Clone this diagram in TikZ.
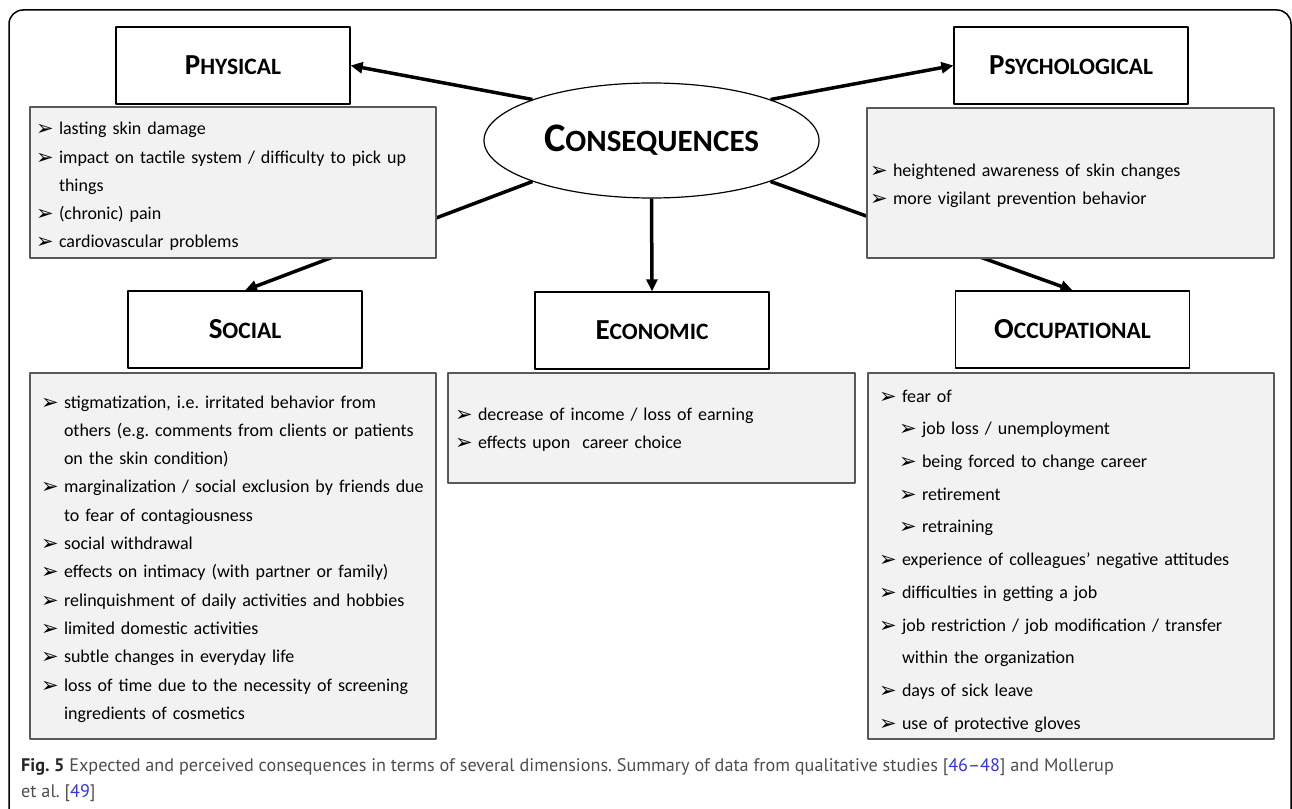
\documentclass[tikz,border=0pt]{standalone}
\usepackage{fontspec}
\setmainfont{Carlito}
\newfontfamily\symfont{DejaVu Sans}
\newfontfamily\capfont{PT Sans}
\usetikzlibrary{shapes.geometric,arrows.meta}
\frenchspacing

\definecolor{boxgray}{HTML}{F2F2F2}
\definecolor{edgegray}{HTML}{595959}
\definecolor{capgray}{HTML}{4D4D4D}
\definecolor{citeblue}{HTML}{3434F0}

\newcommand\bul{\hbox to 23pt{\raisebox{-1pt}{\symfont\fontsize{21}{21}\selectfont ➢}\hfil}}
\newcommand\itm[1]{\par\noindent\bul\mbox{#1}}
\newcommand\subitm[1]{\par\noindent\hspace*{20pt}\bul\mbox{#1}}
\newcommand\nxt[1]{\par\noindent\hspace*{23pt}\mbox{#1}}
\newcommand\pad[1]{\hrule height 0pt width 0pt\vspace*{#1}}
\newcommand\ttl[2]{{\fontsize{29}{29}\selectfont#1}{\fontsize{23.5}{23.5}\selectfont#2}}

\begin{document}
\begin{tikzpicture}[x=1pt, y=-1pt, line join=round,
    title/.style={draw, line width=1.3pt, fill=white, minimum width=234pt, minimum height=77pt, font=\bfseries},
    listbox/.style={draw=edgegray, line width=1.3pt, fill=boxgray, align=left, inner ysep=0pt, font=\fontsize{18}{28.3}\selectfont},
    conn/.style={line width=3.5pt, -{Triangle[length=12pt,width=11pt]}}]

    \useasboundingbox (0,0) rectangle (1292,808);
    \draw[line width=1.5pt, rounded corners=14pt] (9,840) -- (9,10) -- (1291,10) -- (1291,840);

    \node[draw, ellipse, line width=1.2pt, fill=white, minimum width=335pt, minimum height=115pt, inner sep=0pt] (cons) at (651.5,140.5)
        {\bfseries{\fontsize{40.5}{40.5}\selectfont C}{\fontsize{31}{31}\selectfont ONSEQUENCES}};

    \node[title] (phys) at (233,65.5) {\ttl{P}{HYSICAL}};
    \node[title] (psych) at (1071,65.5) {\ttl{P}{SYCHOLOGICAL}};
    \node[title] (soc) at (245,329.5) {\ttl{S}{OCIAL}};
    \node[title] (econ) at (652,330.5) {\ttl{E}{CONOMIC}};
    \node[title] (occ) at (1072.5,329.5) {\ttl{O}{CCUPATIONAL}};

    \draw[conn] (cons.161) -- (phys.east);
    \draw[conn] (cons.19) -- (psych.west);
    \draw[conn] (cons.199) -- (soc.north);
    \draw[conn] (cons.341) -- (occ.north);
    \draw[conn] (cons.south) -- (econ.north);

    \node[listbox, text width=394pt, inner xsep=6pt, minimum height=151pt] (physlist) at (233,182.5)
        {\pad{8pt}
         \itm{lasting skin damage}
         \itm{impact on tactile system / difficulty to pick up}
         \nxt{things}
         \itm{(chronic) pain}
         \itm{cardiovascular problems}};
    \node[listbox, text width=401pt, inner xsep=3pt, minimum height=150pt] (psychlist) at (1070.5,183)
        {\pad{6pt}
         \itm{heightened awareness of skin changes}
         \itm{more vigilant prevention behavior}};
    \node[listbox, text width=384pt, inner xsep=11pt, minimum height=366pt] (soclist) at (233,556)
        {\pad{6pt}
         \itm{stigmatization, i.e. irritated behavior from}
         \nxt{others (e.g. comments from clients or patients}
         \nxt{on the skin condition)}
         \itm{marginalization / social exclusion by friends due}
         \nxt{to fear of contagiousness}
         \itm{social withdrawal}
         \itm{effects on intimacy (with partner or family)}
         \itm{relinquishment of daily activities and hobbies}
         \itm{limited domestic activities}
         \itm{subtle changes in everyday life}
         \itm{loss of time due to the necessity of screening}
         \nxt{ingredients of cosmetics}};
    \node[listbox, text width=393pt, inner xsep=7pt, minimum height=110pt] (econlist) at (651.5,428)
        {\pad{4pt}
         \itm{decrease of income / loss of earning}
         \itm{effects upon\ \ career choice}};
    \node[listbox, text width=384pt, inner xsep=11pt, minimum height=366pt, font=\fontsize{18}{32.7}\selectfont] (occlist) at (1071,556)
        {\pad{10pt}
         \itm{fear of}
         \subitm{job loss / unemployment}
         \subitm{being forced to change career}
         \subitm{retirement}
         \subitm{retraining}
         \itm{experience of colleagues' negative attitudes}
         \itm{difficulties in getting a job}
         \itm{job restriction / job modification / transfer}
         \nxt{within the organization}
         \itm{days of sick leave}
         \itm{use of protective gloves}};

    \node[anchor=base west, align=left, inner sep=0pt, text=capgray, font=\capfont\fontsize{18.2}{26}\selectfont] (cap) at (21,797)
        {{\bfseries\color{black!85}Fig. 5} Expected and perceived consequences in terms of several dimensions. Summary of data from qualitative studies [{\color{citeblue}46–48}] and Mollerup\\et al. [{\color{citeblue}49}]};

\end{tikzpicture}
\end{document}
